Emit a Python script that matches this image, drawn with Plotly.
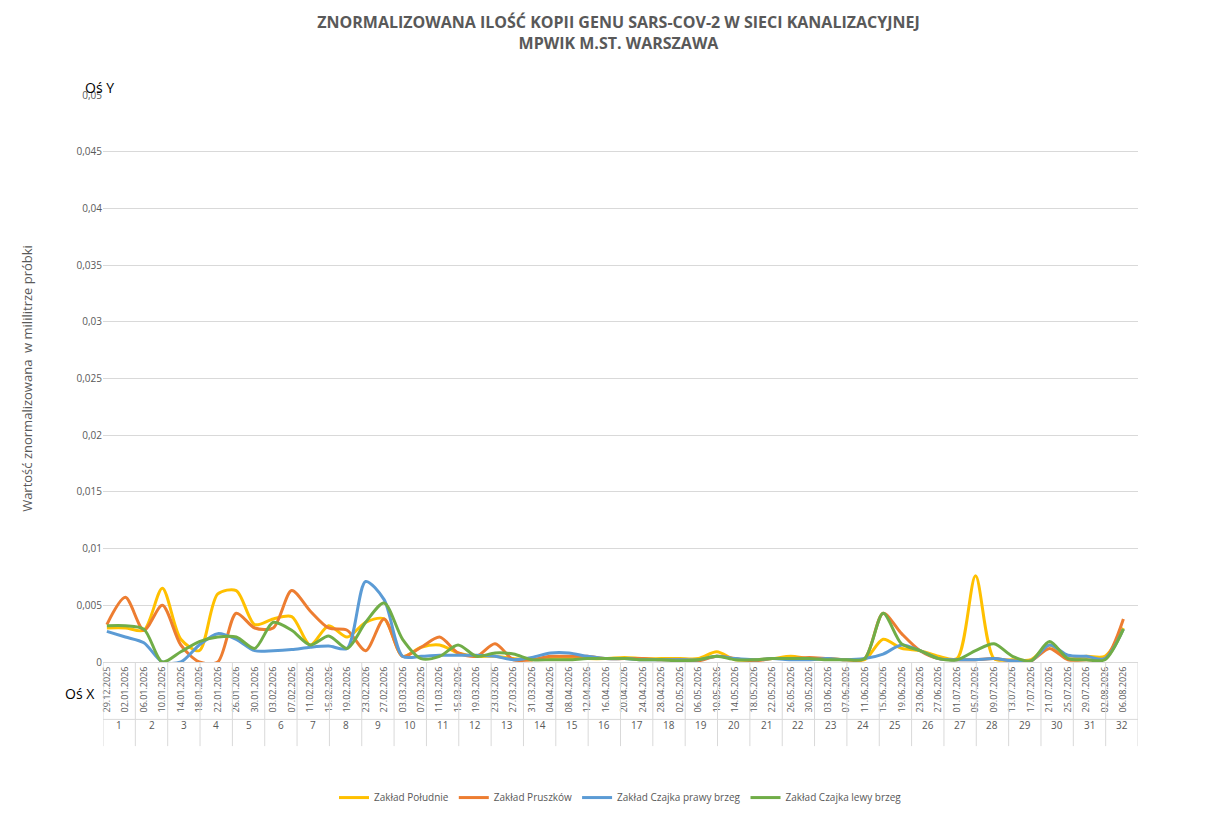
import plotly.graph_objects as go
from datetime import date, timedelta

start = date(2025, 12, 29)
dates = [start + timedelta(days=4 * i) for i in range(56)]
date_labels = [d.strftime("%d.%m.%Y") for d in dates]
weeks = [str(i) for i in range(1, 33)]

poludnie = [3.0,3.0,2.8,6.5,2.0,1.0,6.0,6.3,3.3,3.8,4.0,1.5,3.2,2.2,3.5,3.8,0.5,1.3,1.5,0.8,0.5,0.5,0.3,0.2,0.4,0.4,
            0.3,0.3,0.4,0.3,0.3,0.3,0.3,0.9,0.2,0.2,0.3,0.5,0.3,0.3,0.2,0.2,2.0,1.2,1.0,0.5,0.3,7.6,0.3,0.2,0.2,1.5,0.3,0.5,0.5,3.0]
pruszkow = [3.3,5.7,2.8,5.0,1.5,0.0,0.0,4.3,3.0,3.0,6.3,4.5,3.0,2.8,1.0,3.8,0.5,1.3,2.2,0.8,0.5,1.6,0.2,0.2,0.5,0.5,
            0.5,0.3,0.3,0.3,0.2,0.2,0.1,0.5,0.3,0.1,0.3,0.3,0.4,0.3,0.2,0.3,4.3,2.5,1.0,0.3,0.2,0.2,0.3,0.1,0.1,1.2,0.2,0.2,0.3,3.8]
czajka_prawy = [2.7,2.2,1.7,0.0,0.0,1.5,2.5,2.0,1.0,1.0,1.1,1.3,1.4,1.2,7.1,5.5,0.5,0.5,0.6,0.6,0.6,0.5,0.2,0.4,0.8,0.8,
                0.5,0.3,0.3,0.2,0.2,0.2,0.2,0.5,0.3,0.2,0.3,0.2,0.2,0.3,0.2,0.3,0.7,1.5,1.0,0.3,0.2,0.2,0.3,0.1,0.1,1.5,0.6,0.5,0.3,2.9]
czajka_lewy = [3.2,3.2,2.9,0.0,0.9,1.8,2.2,2.2,1.2,3.5,2.8,1.5,2.3,1.2,3.5,5.2,2.0,0.3,0.5,1.5,0.5,0.8,0.7,0.2,0.2,0.2,
               0.3,0.3,0.3,0.2,0.2,0.1,0.2,0.5,0.2,0.2,0.3,0.3,0.3,0.2,0.2,0.3,4.3,1.6,1.0,0.3,0.2,1.0,1.6,0.5,0.1,1.8,0.3,0.2,0.2,2.9]

series = [("Zakład Południe", poludnie, "#FFC000"),
          ("Zakład Pruszków", pruszkow, "#ED7D31"),
          ("Zakład Czajka prawy brzeg", czajka_prawy, "#5B9BD5"),
          ("Zakład Czajka lewy brzeg", czajka_lewy, "#70AD47")]

xpos = [(d - start).days / 7 + 0.12 for d in dates]

fig = go.Figure()
for name, vals, col in series:
    fig.add_trace(go.Scatter(x=xpos, y=[v / 1000 for v in vals], name=name, mode="lines",
                             line=dict(color=col, width=3, shape="spline", smoothing=0.8)))

P0, PH = 660, 573
def py(p):
    return (P0 - p) / PH

shapes = [dict(type="line", xref="x", yref="paper", x0=i, x1=i, y0=0, y1=py(745),
               line=dict(color="#D9D9D9", width=1)) for i in range(33)]
shapes.append(dict(type="line", xref="x", yref="paper", x0=0, x1=32, y0=py(718), y1=py(718),
                   line=dict(color="#D9D9D9", width=1)))
ann = [dict(x=i + 0.5, y=py(733), xref="x", yref="paper", text=w, showarrow=False,
            font=dict(size=10, color="#595959")) for i, w in enumerate(weeks)]
ann.append(dict(x=(75 - 95) / 1035, y=py(68), xref="paper", yref="paper", text="Oś Y",
                showarrow=False, font=dict(size=14, color="#000")))
ann.append(dict(x=(55 - 95) / 1035, y=py(703), xref="paper", yref="paper", text="Oś X",
                showarrow=False, font=dict(size=14, color="#000")))

fig.update_layout(
    width=1221, height=816,
    margin=dict(l=95, r=91, t=87, b=156),
    paper_bgcolor="white", plot_bgcolor="white",
    font=dict(family="Open Sans", color="#595959"),
    title=dict(text="<b>ZNORMALIZOWANA ILOŚĆ KOPII GENU SARS-COV-2 W SIECI KANALIZACYJNEJ<br>MPWIK M.ST. WARSZAWA</b>",
               x=0.5, xanchor="center", y=0.975, yanchor="top", font=dict(size=16, color="#595959")),
    xaxis=dict(range=[0, 32], tickmode="array", tickvals=xpos, ticktext=date_labels, tickangle=-90,
               tickfont=dict(size=9, color="#595959"), showgrid=False, zeroline=False, automargin=False,
               showline=True, linecolor="#D9D9D9", ticks=""),
    yaxis=dict(range=[0, 0.05], gridcolor="#D9D9D9", automargin=False,
               tickvals=[i * 0.005 for i in range(11)],
               ticktext=["0"] + [("%.3f" % (i * 0.005)).rstrip("0").replace(".", ",") for i in range(1, 11)],
               tickfont=dict(size=10, color="#595959"), zeroline=False,
               title=dict(text="Wartość znormalizowana  w mililitrze próbki", font=dict(size=13, color="#595959"),
                          standoff=40)),
    legend=dict(orientation="h", x=0.5, xanchor="center", y=py(797), yanchor="middle",
                font=dict(size=10, color="#595959")),
    shapes=shapes, annotations=ann,
)
fig.write_html("out.html")
